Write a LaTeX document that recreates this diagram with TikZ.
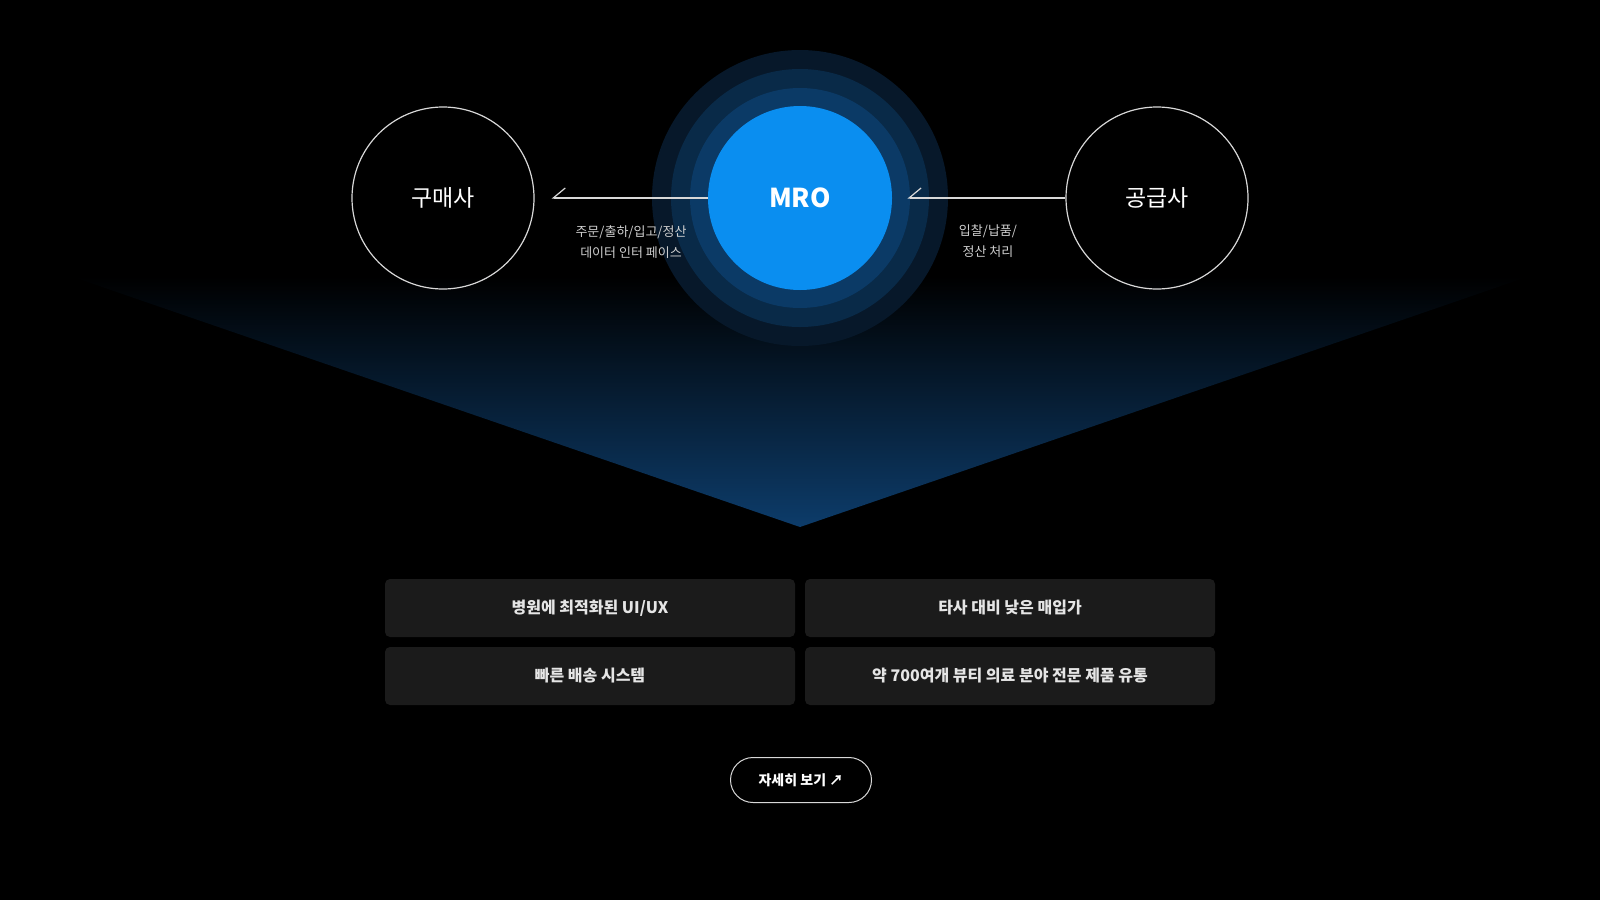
\documentclass[tikz,border=0pt]{standalone}
\usepackage{fontspec}
\setmainfont{Noto Sans CJK KR}
\usetikzlibrary{arrows.meta}

\definecolor{mroblue}{HTML}{0A8EF0}
\definecolor{ringone}{HTML}{0B3A66}
\definecolor{ringtwo}{HTML}{092A48}
\definecolor{ringthree}{HTML}{07182A}
\definecolor{glowblue}{HTML}{0D3C6A}
\definecolor{boxgray}{HTML}{1B1B1B}
\definecolor{linegray}{HTML}{D8D8D8}
\definecolor{labelgray}{HTML}{CFCFCF}

\begin{document}
\begin{tikzpicture}
  [x=0.5pt,y=-0.5pt,
   party/.style={circle,draw=linegray,line width=0.6pt,minimum size=91pt,inner sep=0pt,
     text=white,font=\fontsize{11.5}{14}\selectfont},
   hub/.style={circle,fill=mroblue,minimum size=92pt,inner sep=0pt,
     text=white,font=\fontsize{13}{16}\selectfont\bfseries},
   flow/.style={draw=linegray,line width=0.6pt,-{Straight Barb[right,length=6pt,width=10pt]}},
   flowlabel/.style={align=center,text=labelgray,font=\fontsize{6.5}{10.5}\selectfont},
   feature/.style={rectangle,rounded corners=2.5pt,fill=boxgray,minimum width=205pt,
     minimum height=29pt,text=white!90!black,font=\fontsize{8}{10}\selectfont\bfseries},
   more/.style={rectangle,rounded corners=11.25pt,draw=linegray,line width=0.5pt,
     minimum width=70.5pt,minimum height=22.5pt,text=white,font=\fontsize{7}{9}\selectfont\bfseries}]
  % \draw[help lines] (0,0) grid (1600,900);
  \fill[black] (0,0) rectangle (1600,900);
  \shade[top color=black,bottom color=glowblue] (70,276) -- (1530,276) -- (800,527) -- cycle;
  \fill[ringthree] (800,198) circle (74pt);
  \fill[ringtwo]   (800,198) circle (64.5pt);
  \fill[ringone]   (800,198) circle (55pt);
  \node[hub]   (mro)      at (800,198)  {MRO};
  \node[party] (buyer)    at (443,198)  {구매사};
  \node[party] (supplier) at (1157,198) {공급사};
  \draw[flow,shorten >=8.5pt] (mro) -- (buyer);
  \draw[flow,shorten >=7.5pt] (supplier) -- (mro);
  \node[flowlabel] (buyerflow)    at (631,242) {주문/출하/입고/정산\\데이터 인터 페이스};
  \node[flowlabel] (supplierflow) at (988,241) {입찰/납품/\\정산 처리};
  \node[feature] (uiux)     at (590,608)  {병원에 최적화된 UI/UX};
  \node[feature] (price)    at (1010,608) {타사 대비 낮은 매입가};
  \node[feature] (delivery) at (590,676)  {빠른 배송 시스템};
  \node[feature] (products) at (1010,676) {약 700여개 뷰티 의료 분야 전문 제품 유통};
  \node[more]    (detail)   at (801,780)  {자세히 보기 ↗};
\end{tikzpicture}
\end{document}
